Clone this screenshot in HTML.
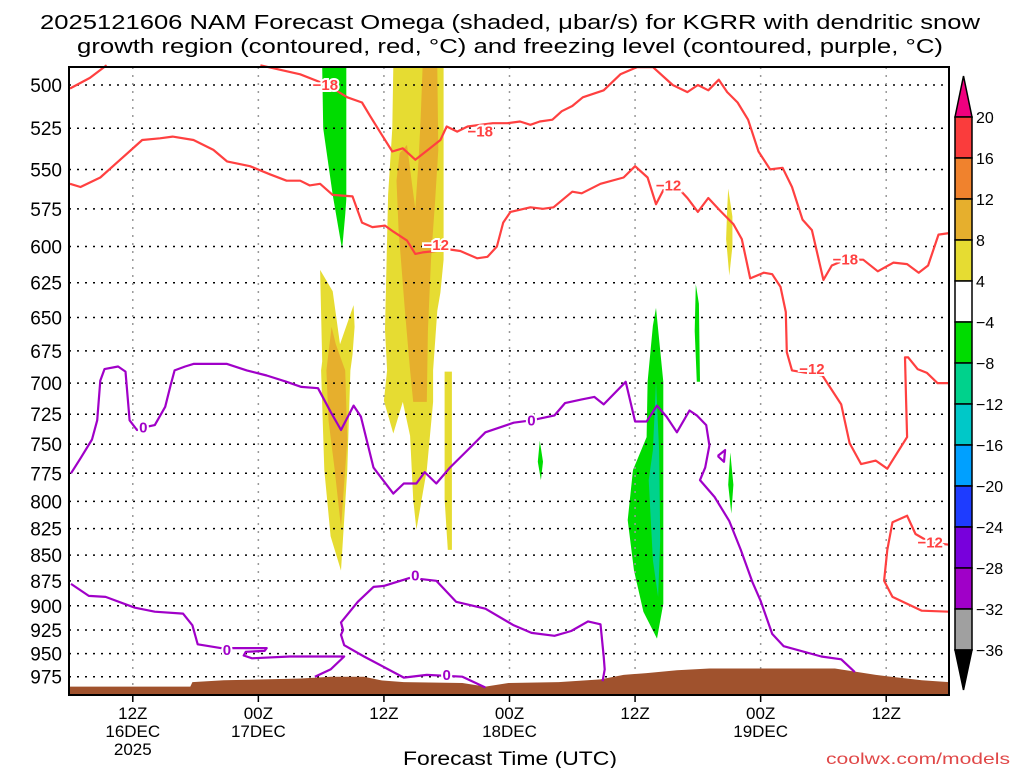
<!DOCTYPE html>
<html><head><meta charset="utf-8"><style>
html,body{margin:0;padding:0;background:#fff;}
svg{display:block;font-family:"Liberation Sans",sans-serif;}
</style></head><body>
<svg id="chart" width="1024" height="768" viewBox="0 0 1024 768" xmlns="http://www.w3.org/2000/svg">
<text x="510" y="29" font-size="20" text-anchor="middle" textLength="940" lengthAdjust="spacingAndGlyphs">2025121606 NAM Forecast Omega (shaded, μbar/s) for KGRR with dendritic snow</text>
<text x="510" y="53" font-size="20" text-anchor="middle" textLength="866" lengthAdjust="spacingAndGlyphs">growth region (contoured, red, °C) and freezing level (contoured, purple, °C)</text>
<g id="shade"></g>
<g id="grid"></g>
<g id="terrain"></g>
<g id="contours"></g>
<g id="labels"></g>
<rect x="69" y="67" width="880" height="628" fill="none" stroke="#000" stroke-width="2"/>
<g id="yaxis"></g>
<g id="xaxis"></g>
<text x="510" y="765" font-size="19" text-anchor="middle" textLength="214" lengthAdjust="spacingAndGlyphs">Forecast Time (UTC)</text>
<text x="1010" y="764" font-size="16" fill="#e04848" text-anchor="end" textLength="184" lengthAdjust="spacingAndGlyphs">coolwx.com/models</text>
<g id="cbar"></g>
</svg>
<script>
const levels=[500,525,550,575,600,625,650,675,700,725,750,775,800,825,850,875,900,925,950,975];
const xTickHours=[6,18,30,42,54,66,78];
const xTickTimes=["12Z","00Z","12Z","00Z","12Z","00Z","12Z"];
const xTickDates=["16DEC","17DEC","","18DEC","","19DEC",""];
const xTickYears=["2025","","","","","",""];
const cbarValues=[20,16,12,8,4,-4,-8,-12,-16,-20,-24,-28,-32,-36];
const cbarColors=["#fa3c3c","#f0822d","#e6af2d","#e6dc32","#ffffff","#00dc00","#00d28c","#00c8c8","#00a0ff","#1e3cff","#7800dc","#a000c8","#a0a0a0"];
const red18a=[[0,502],[1.9,496],[3.5,489]];
const red18b=[[18.2,489],[22,494],[24.6,500],[26.5,507],[27.9,510],[28.7,518],[29.9,530],[30.8,539],[31.8,537],[33,544],[34.4,537],[35.4,532],[36,524],[37,527],[38,524],[40.4,522],[41.8,522],[43,521],[44,523],[44.9,521],[46.1,520],[47,515],[48,512],[49,507],[51,503],[52.6,494],[54.2,490],[55.7,490],[57.6,500],[59,504],[60,500],[61,503],[62,497],[62.8,504],[63.8,510],[64.8,520],[65.8,539],[66.9,550],[68.1,549],[69,561],[70,582],[70.9,589],[72,623],[72.8,613],[74.1,609],[75.8,609],[77.2,617],[78.7,611],[80,612],[81.1,618],[82,613],[83,592],[84,591]];
const red12a=[[0,559],[1,561],[2.9,555],[4.8,544],[6.9,532],[8.6,531],[9.8,530],[11.8,532],[13.7,538],[15,545],[17.2,548],[19.1,553],[20.7,557],[22,557],[22.9,560],[23.9,559],[25.1,566],[27,567],[27.9,584],[28.9,587],[30.1,586],[30.9,590],[32.2,596],[33,605],[33.7,604],[36.3,602],[37.3,603],[38.9,608],[39.9,607],[40.8,600],[41.4,584],[42.1,577],[44,574],[45.2,575],[46.2,574],[48,564],[48.9,565],[50.7,559],[52.9,555],[54,548],[55.2,555],[56,572],[56.7,563],[58.3,563],[59,568],[60,577],[61,568],[62.1,576],[63.4,585],[64.2,595],[65,622],[66.3,618],[67.1,619],[67.9,628],[68.4,646],[68.5,676],[69,690],[71.9,694],[73.7,717],[74.5,749],[75.6,767],[77,764],[78.1,771],[80,744],[79.9,714],[79.8,680],[80.1,680],[81,689],[81.9,692],[82.9,700],[84,700]];
const red12b=[[84,906],[81.4,905],[78.6,891],[77.8,875],[78.1,845],[78.6,819],[80,813],[80.8,830],[82.2,838],[84,840]];
const frzUpper=[[0.1,775],[1,762],[2.1,746],[2.6,730],[2.9,698],[3.3,689],[4.6,687],[5.3,691],[5.7,730],[6.4,738],[7,736],[8.1,734],[9.1,719],[9.6,702],[10,690],[11,687],[11.8,685],[15,685],[16.9,690],[18.8,694],[20.7,699],[22.1,703],[23.7,704],[24.9,723],[25.9,738],[27.1,718],[27.8,727],[29,770],[30.9,793],[31.9,784],[33.1,784],[33.9,774],[35,784],[36.3,770],[38,755],[39.7,740],[42.4,732],[44.1,730],[46.3,726],[47.3,716],[48.9,713],[50.1,711],[51,717],[53.1,699],[54,731],[55.1,731],[56.1,718],[57,727],[58,740],[59.2,722],[59.9,726],[60.8,734],[61.1,751],[60.7,770],[60.2,781],[61.6,796],[63,818],[64.1,845],[65.2,876],[66,895],[67.1,929],[68.2,942],[71.8,953],[73.7,956],[75,970]];
const frzLoop=[[61.9,760],[62.6,755],[62.5,765],[61.9,760]];
const frzLower1=[[0.1,878],[1.8,890],[3.4,891],[6.2,902],[8.1,906],[10.8,908],[11.7,920],[12.2,940],[14.4,944],[18.8,944],[18.6,947],[16.8,948],[16.6,952],[17.4,955],[21,953],[26.2,953],[24.9,967],[23.4,975]];
const frzLower2=[[39.7,987],[37.5,975],[34.1,973],[31.9,976],[28.1,953],[26.2,941],[25.9,930],[26.1,925],[25.9,917],[27.5,896],[29,881],[30,880],[32.5,872],[35,875],[36.9,896],[39.7,903],[42.4,920],[44.1,928],[46.3,931],[47.9,926],[49.5,916],[50.7,919],[51,953],[51.1,967],[50.9,980]];
const terrainP=[[0,986],[11.5,986],[11.7,981],[14.7,979],[22.1,977],[24.9,975],[28.1,975],[29.7,979],[31.9,981],[37.5,982],[39.7,986],[41.9,982],[46.7,981],[50.7,978],[52.9,973],[55.1,971],[58,968],[61.1,966],[73.1,966],[77,973],[81.4,979],[84,981]];
const yellowMain=[[30.9,490],[35.7,490],[35.7,609],[35.4,632],[35.1,645],[34.7,690],[34.7,715],[34.1,772],[33.1,826],[32.8,798],[32.5,743],[31.8,715],[30.9,741],[30,714],[30.3,690],[30.1,659],[30.4,566],[30.8,525]];
const yellowStrip=[[35.8,691],[36.5,691],[36.5,845],[36.1,845],[35.8,798]];
const orangeMain=[[33.7,490],[35.1,490],[35.2,538],[34.9,569],[34.5,609],[34.2,660],[34.1,715],[32.8,715],[32.5,690],[32,645],[31.4,589],[31.2,557],[31.5,540],[32.2,535],[32.7,560],[33,575],[33.3,545],[33.5,520]];
const yellowLeft=[[23.9,616],[25.1,631],[25.8,670],[27.1,641],[27.2,657],[27,678],[26.8,690],[26.5,772],[25.9,865],[24.9,832],[24.3,772],[24,690],[24.1,683]];
const orangeLeft=[[25,657],[25.4,670],[26.3,690],[26.5,746],[25.9,824],[25.3,772],[24.7,730],[24.5,690],[24.8,670]];
const yellowSmall=[[62.9,562],[63.3,580],[63.3,600],[63,620],[62.7,595],[62.8,575]];
const greenTop=[[24.1,490],[26.4,490],[26.4,569],[26.3,579],[26,602],[25.1,566],[24.2,525]];
const greenMain=[[56,643],[56.7,699],[56.7,898],[56.1,934],[54.8,906],[53.9,865],[53.3,817],[53.8,772],[55.1,744],[55.2,699],[55.7,656]];
const tealMain=[[56,699],[56.3,755],[56.4,836],[56.2,891],[55.7,855],[55.3,781],[55.7,755]];
const greenThin=[[59.8,626],[60.1,640],[60.2,699],[59.9,699],[59.7,660]];
const greenSmall1=[[44.9,747],[45.2,765],[45,781],[44.7,765]];
const greenSmall2=[[63.1,757],[63.4,785],[63.2,811],[62.9,785]];
const redLabels=[[24.4,500,"-18"],[39.2,527,"-18"],[74.1,609,"-18"],[35,599,"-12"],[57.2,560,"-12"],[70.9,689,"-12"],[82.2,838,"-12"]];
const frzLabels=[[7,736,"0"],[44.1,730,"0"],[15,946,"0"],[33,870,"0"],[36,973,"0"]];

const NS="http://www.w3.org/2000/svg";
const X0=70,X1=949,PTOP=490,PBOT=996;
function xs(h){return X0+h*(X1-X0)/84;}
function ys(p){return 85+886*Math.log(p/500);}
function mk(tag,attrs,parent){const e=document.createElementNS(NS,tag);for(const k in attrs)e.setAttribute(k,attrs[k]);parent.appendChild(e);return e;}
function pts(arr){return arr.map(d=>xs(d[0]).toFixed(1)+","+ys(d[1]).toFixed(1)).join(" ");}

const shade=document.getElementById('shade');
const polys=[[yellowMain,"#e6dc32","yellow-region-main"],[yellowStrip,"#e6dc32","yellow-region-strip"],[orangeMain,"#e6af2d","orange-region-main"],[yellowLeft,"#e6dc32","yellow-region-left"],[orangeLeft,"#e6af2d","orange-region-left"],[yellowSmall,"#e6dc32","yellow-region-small"],[greenTop,"#00dc00","green-region-top"],[greenMain,"#00dc00","green-region-main"],[tealMain,"#00d28c","teal-region-main"],[greenThin,"#00dc00","green-region-thin"],[greenSmall1,"#00dc00","green-region-small-1"],[greenSmall2,"#00dc00","green-region-small-2"]];
polys.forEach(pp=>{
  const e=mk('polygon',{points:pts(pp[0]),fill:pp[1]},shade);
  
  
});

const grid=document.getElementById('grid');
const yaxis=document.getElementById('yaxis');
levels.forEach(p=>{
  const y=ys(p);
  const l=mk('line',{x1:69,x2:949,y1:y,y2:y,stroke:"#000","stroke-width":1.5,"stroke-dasharray":"2,6"},grid);
  
  
  const t=mk('text',{x:62,y:y+7,"font-size":19,"text-anchor":"end"},yaxis);
  
  
  t.textContent=p;
});
const xaxis=document.getElementById('xaxis');
xTickHours.forEach((h,i)=>{
  const x=xs(h);
  const l=mk('line',{x1:x,x2:x,y1:67,y2:695,stroke:"#999","stroke-width":1.5,"stroke-dasharray":"2,6"},grid);
  
  
  const tk=mk('line',{x1:x,x2:x,y1:695,y2:702,stroke:"#000","stroke-width":1.5},xaxis);
  
  
  [[xTickTimes[i],719],[xTickDates[i],737],[xTickYears[i],755]].forEach(r=>{
    if(!r[0])return;
    const t=mk('text',{x:x,y:r[1],"font-size":17,"text-anchor":"middle"},xaxis);
    
    
    t.textContent=r[0];
  });
});

const terr=document.getElementById('terrain');
let d="M"+xs(0)+","+ys(PBOT);
terrainP.forEach(q=>{
  d+=" L"+xs(q[0]).toFixed(1)+","+ys(q[1]).toFixed(1);
});
d+=" L"+xs(84)+","+ys(PBOT)+" Z";
const tp=mk('path',{d:d,fill:"#a0522d"},terr);



const cont=document.getElementById('contours');
[[red18a,"#ff4040","contour-minus18-a"],[red18b,"#ff4040","contour-minus18-b"],[red12a,"#ff4040","contour-minus12-a"],[red12b,"#ff4040","contour-minus12-b"],[frzUpper,"#a000c8","freezing-level-upper"],[frzLoop,"#a000c8","freezing-level-loop"],[frzLower1,"#a000c8","freezing-level-lower-1"],[frzLower2,"#a000c8","freezing-level-lower-2"]].forEach(c=>{
  const e=mk('polyline',{points:pts(c[0]),fill:"none",stroke:c[1],"stroke-width":2.2,"stroke-linejoin":"round"},cont);
  
  
});
const lab=document.getElementById('labels');
redLabels.forEach(r=>{
  const t=mk('text',{x:xs(r[0]),y:ys(r[1])+5,"font-size":15,"font-weight":"bold",fill:"#ff4040","text-anchor":"middle",stroke:"#fff","stroke-width":4,"paint-order":"stroke"},lab);
  
  
  t.textContent=r[2].replace('-','\u2212');
});
frzLabels.forEach(r=>{
  const t=mk('text',{x:xs(r[0]),y:ys(r[1])+5,"font-size":15,"font-weight":"bold",fill:"#a000c8","text-anchor":"middle",stroke:"#fff","stroke-width":4,"paint-order":"stroke"},lab);
  
  
  t.textContent=r[2];
});

const cb=document.getElementById('cbar');
const CBX=955,CBW=17,CBT=117,CBH=41;
const cbTop=mk('polygon',{points:`${CBX},${CBT} ${CBX+CBW},${CBT} ${CBX+CBW/2},76`,fill:"#f0007f",stroke:"#000","stroke-width":1.5},cb);


cbarColors.forEach((c,i)=>{
  const r=mk('rect',{x:CBX,y:CBT+i*CBH,width:CBW,height:CBH,fill:c,stroke:"#000","stroke-width":1.5},cb);
  
  
});
const cbBt=CBT+cbarColors.length*CBH;
const cbBot=mk('polygon',{points:`${CBX},${cbBt} ${CBX+CBW},${cbBt} ${CBX+CBW/2},${cbBt+40}`,fill:"#000",stroke:"#000","stroke-width":1.5},cb);


cbarValues.forEach((v,i)=>{
  const t=mk('text',{x:976,y:CBT+i*CBH+6,"font-size":16},cb);
  
  
  t.textContent=(v<0?'\u2212':'')+Math.abs(v);
});
</script>
</body></html>
